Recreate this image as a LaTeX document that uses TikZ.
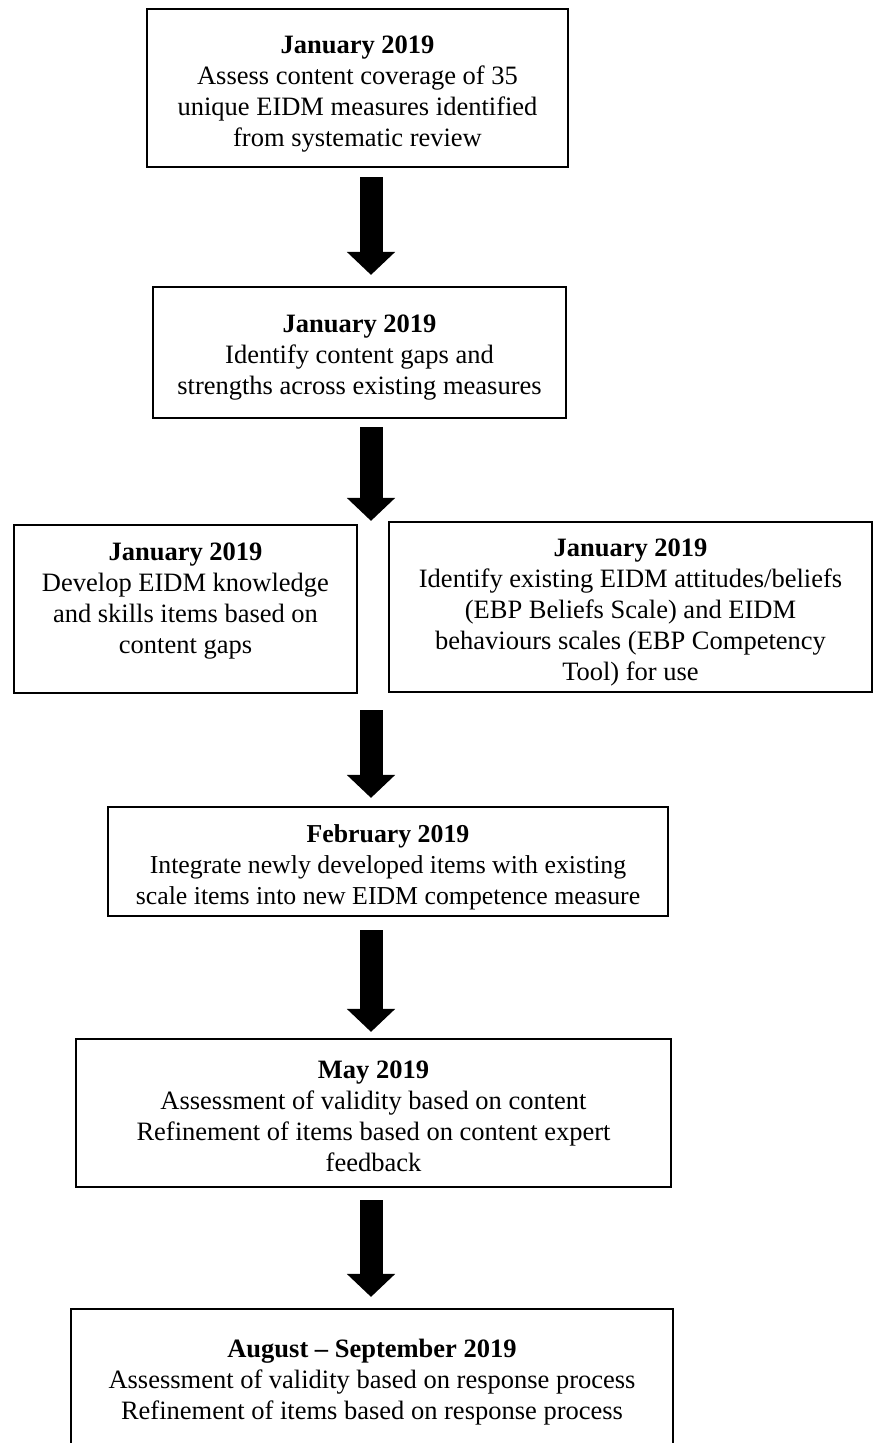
\documentclass[tikz,border=0pt]{standalone}
\usepackage{fontspec}
\setmainfont{Liberation Serif}
\usetikzlibrary{arrows.meta}
\newcommand{\topgap}[1]{\rule{0pt}{#1}}
\begin{document}
\begin{tikzpicture}[x=1pt,y=-1pt,
  box/.style={draw, line width=2.2pt, inner sep=0pt, align=center,
    font=\fontsize{26.5}{31}\selectfont},
  bigarrow/.style={line width=23pt, -{Triangle[length=23pt,width=47pt]}}]
\useasboundingbox (0,0) rectangle (875,1443);
\clip (0,0) rectangle (875,1443);
\node[box, minimum width=421pt, minimum height=158pt] (b1) at (357.5,88)
  {\topgap{29pt}\textbf{January 2019}\\Assess content coverage of 35\\unique EIDM measures identified\\from systematic review};
\node[box, minimum width=413pt, minimum height=131pt] (b2) at (359.5,352.5)
  {\topgap{28pt}\textbf{January 2019}\\Identify content gaps and\\strengths across existing measures};
\node[box, minimum width=343pt, minimum height=168pt] (b3) at (185.5,609)
  {\topgap{27pt}\textbf{January 2019}\\Develop EIDM knowledge\\and skills items based on\\content gaps\\\mbox{}};
\node[box, minimum width=483pt, minimum height=170pt] (b4) at (630.5,607)
  {\topgap{29pt}\textbf{January 2019}\\Identify existing EIDM attitudes/beliefs\\(EBP Beliefs Scale) and EIDM\\behaviours scales (EBP Competency\\Tool) for use};
\node[box, minimum width=560pt, minimum height=109pt, font=\fontsize{25.8}{31}\selectfont] (b5) at (388,861.5)
  {\topgap{30pt}\textbf{February 2019}\\Integrate newly developed items with existing\\scale items into new EIDM competence measure};
\node[box, minimum width=595pt, minimum height=148pt] (b6) at (373.5,1113)
  {\topgap{24pt}\textbf{May 2019}\\Assessment of validity based on content\\Refinement of items based on content expert\\feedback};
\node[box, minimum width=602pt, minimum height=146pt] (b7) at (372,1382)
  {\textbf{August -- September 2019}\\Assessment of validity based on response process\\Refinement of items based on response process};
\coordinate (ax) at (371,0);
\draw[bigarrow, shorten <=9pt, shorten >=11pt] (b1.south -| ax) -- (b2.north -| ax);
\draw[bigarrow, shorten <=8pt, shorten >=3pt] (b2.south -| ax) -- (b3.north -| ax);
\draw[bigarrow, shorten <=16pt, shorten >=8pt] (b3.south -| ax) -- (b5.north -| ax);
\draw[bigarrow, shorten <=13pt, shorten >=6pt] (b5.south -| ax) -- (b6.north -| ax);
\draw[bigarrow, shorten <=12pt, shorten >=11pt] (b6.south -| ax) -- (b7.north -| ax);
\end{tikzpicture}
\end{document}
